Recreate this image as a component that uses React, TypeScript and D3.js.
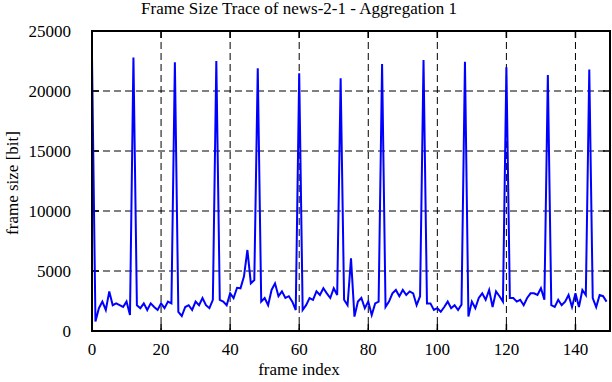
import React from "react";
import * as d3 from "d3";

const frameSizes: number[] = [
  22800, 800, 1900, 2450, 1750, 3300, 2150, 2300, 2150, 2000, 2450, 1330,
  22800, 2150, 1900, 2300, 1750, 2300, 2000, 1750, 2300, 1900, 2450, 2300,
  22400, 1600, 1250, 2000, 2150, 1750, 2450, 2150, 2750, 2150, 1900, 2600,
  22500, 2600, 2450, 2150, 3140, 2750, 3600, 3560, 4530, 6750, 3970, 4250,
  21900, 2450, 2750, 2150, 3420, 3970, 2900, 3300, 2750, 2900, 2450, 1750,
  21470, 1750, 2150, 2750, 2600, 3300, 3000, 3560, 3140, 2750, 3560, 3000,
  21060, 2600, 2150, 6050, 1200, 2450, 2750, 1900, 2450, 1330, 2300, 2450,
  22250, 2000, 2450, 3140, 3420, 2900, 3420, 3000, 3300, 3140, 2150, 2900,
  22580, 2300, 2300, 1750, 1900, 1600, 2000, 2450, 1900, 2150, 1750, 2200,
  22440, 1200, 2450, 1900, 2750, 3140, 2600, 3420, 2000, 3300, 2900, 2450,
  21970, 2750, 2750, 2450, 2600, 2150, 2750, 3140, 3140, 3000, 3560, 2600,
  21330, 2150, 2000, 2600, 2150, 2450, 3000, 2000, 3140, 2000, 3420, 3000,
  21800, 2750, 2000, 3000, 2900, 2450,
];

const xTicks: number[] = [0, 20, 40, 60, 80, 100, 120, 140];
const yTicks: number[] = [0, 5000, 10000, 15000, 20000, 25000];

const titleText = "Frame Size Trace of news-2-1 - Aggregation 1";
const xLabel = "frame index";
const yLabel = "frame size [bit]";

const W = 612;
const H = 382;
const L = 92;
const R = 610;
const T = 31;
const B = 331;
const FONT = "'Liberation Serif', 'Times New Roman', serif";

export default function App() {
  const x = d3.scaleLinear().domain([0, 150]).range([L, R]);
  const y = d3.scaleLinear().domain([0, 25000]).range([B, T]);
  const line = d3
    .line<number>()
    .x((_, i) => x(i))
    .y((d) => y(d));
  const path = line(frameSizes) || "";
  const tick = 7;

  return (
    <svg
      width={W}
      height={H}
      style={{ position: "absolute", left: 0, top: 0, background: "#fff" }}
    >
      <rect x={0} y={0} width={W} height={H} fill="#fff" />
      {xTicks
        .filter((t) => t > 0)
        .map((t) => (
          <line
            key={"gx" + t}
            x1={x(t)}
            x2={x(t)}
            y1={T}
            y2={B}
            stroke="#000"
            strokeWidth={1}
            strokeDasharray="7,4"
          />
        ))}
      {yTicks
        .filter((t) => t > 0 && t < 25000)
        .map((t) => (
          <line
            key={"gy" + t}
            x1={L}
            x2={R}
            y1={y(t)}
            y2={y(t)}
            stroke="#000"
            strokeWidth={1}
            strokeDasharray="7,4"
          />
        ))}
      {xTicks.map((t) => (
        <g key={"tx" + t}>
          <line x1={x(t)} x2={x(t)} y1={B} y2={B - tick} stroke="#000" strokeWidth={1.5} />
          <line x1={x(t)} x2={x(t)} y1={T} y2={T + tick} stroke="#000" strokeWidth={1.5} />
          <text
            x={x(t)}
            y={355}
            textAnchor="middle"
            fontFamily={FONT}
            fontSize={17}
            fill="#000"
          >
            {t}
          </text>
        </g>
      ))}
      {yTicks.map((t) => (
        <g key={"ty" + t}>
          <line x1={L} x2={L + tick} y1={y(t)} y2={y(t)} stroke="#000" strokeWidth={1.5} />
          <line x1={R} x2={R - tick} y1={y(t)} y2={y(t)} stroke="#000" strokeWidth={1.5} />
          <text
            x={71}
            y={y(t)}
            dy="0.35em"
            textAnchor="end"
            fontFamily={FONT}
            fontSize={17}
            fill="#000"
          >
            {t}
          </text>
        </g>
      ))}
      <path d={path} fill="none" stroke="#0000ff" strokeWidth={2} strokeLinejoin="miter" />
      <rect x={L} y={T} width={R - L} height={B - T} fill="none" stroke="#000" strokeWidth={2} />
      <text x={299} y={14} textAnchor="middle" fontFamily={FONT} fontSize={17} fill="#000">
        {titleText}
      </text>
      <text x={299} y={375} textAnchor="middle" fontFamily={FONT} fontSize={17} fill="#000">
        {xLabel}
      </text>
      <text
        transform={`translate(18,${183}) rotate(-90)`}
        textAnchor="middle"
        fontFamily={FONT}
        fontSize={17}
        fill="#000"
      >
        {yLabel}
      </text>
    </svg>
  );
}
